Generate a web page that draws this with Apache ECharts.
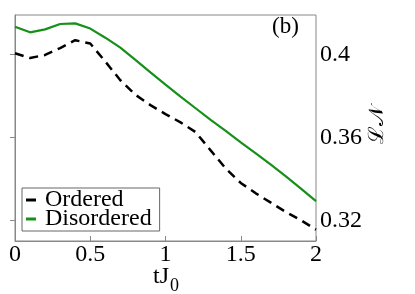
<!DOCTYPE html>
<html><head><meta charset="utf-8">
<script src="https://cdn.jsdelivr.net/npm/echarts@6/dist/echarts.min.js"></script>
<style>html,body{margin:0;padding:0;background:#fff}#c{width:415px;height:294px}</style>
</head><body><div id="c"></div>
<script>
const tValues = [0,0.1,0.2,0.3,0.4,0.5,0.6,0.7,0.8,0.9,1.0,1.1,1.2,1.3,1.4,1.5,1.6,1.7,1.8,1.9,2.0];
const ordered = [0.4005,0.3982,0.3997,0.4030,0.4068,0.4052,0.3965,0.3875,0.3805,0.3755,0.3712,0.3672,0.3625,0.3537,0.3450,0.3380,0.3330,0.3285,0.3240,0.3200,0.3155];
const disordered = [0.4133,0.4106,0.4120,0.4146,0.4149,0.4124,0.4080,0.4032,0.3973,0.3913,0.3854,0.3796,0.3740,0.3684,0.3631,0.3576,0.3523,0.3468,0.3412,0.3353,0.3292];
const yTicks = [0.32,0.36,0.4];
const seriesNames = ['Ordered','Disordered'];
const FONT = 'Liberation Serif';

const chart = echarts.init(document.getElementById('c'));
chart.setOption({
  animation: false,
  textStyle: {fontFamily: FONT},
  grid: {left: 15, right: 99, top: 15, bottom: 53, show: true, borderColor: '#888', borderWidth: 1},
  legend: {
    orient: 'vertical', left: 22, top: 188,
    borderColor: '#666', borderWidth: 1, padding: [0, 8, 0, 4],
    itemGap: -5, itemWidth: 10, itemHeight: 3, icon: 'rect',
    textStyle: {fontFamily: FONT, fontSize: 24, color: '#000', padding: [0,0,0,4]},
    data: seriesNames
  },
  xAxis: {
    type: 'value', min: 0, max: 2, interval: 0.5,
    axisLine: {show: true, lineStyle: {color: '#888'}},
    axisTick: {show: true, inside: true, length: 5, lineStyle: {color: '#888'}},
    splitLine: {show: false},
    axisLabel: {fontFamily: FONT, fontSize: 24, color: '#000', margin: 2, formatter: v => String(v)}
  },
  yAxis: {
    type: 'value', position: 'right', min: 0.31002, max: 0.41894,
    axisLine: {show: true, lineStyle: {color: '#888'}},
    axisTick: {show: true, inside: true, length: 5, customValues: yTicks, lineStyle: {color: '#888'}},
    splitLine: {show: false},
    axisLabel: {fontFamily: FONT, fontSize: 24, color: '#000', margin: 4, customValues: yTicks, formatter: v => String(+v.toFixed(2))}
  },
  graphic: [
    {type: 'text', x: 272, y: 27, style: {text: '(b)', fontFamily: FONT, fontSize: 23, fill: '#000', verticalAlign: 'middle'}},
    {type: 'text', x: 153, y: 277, style: {text: 'tJ', fontFamily: FONT, fontSize: 24, fill: '#000', verticalAlign: 'middle'}},
    {type: 'text', x: 170, y: 286, style: {text: '0', fontFamily: FONT, fontSize: 18, fill: '#000', verticalAlign: 'middle'}},
    {type: 'text', x: 378, y: 125, rotation: Math.PI/2, style: {
      text: 'ℒ𝒩', fontFamily: 'DejaVu Serif', fontSize: 21, fill: '#000', align: 'center', verticalAlign: 'middle'
    }}
  ],
  series: [
    {name: seriesNames[0], type: 'line', showSymbol: false, color: '#000',
     lineStyle: {width: 2.5, type: [9,6], color: '#000'},
     data: tValues.map((t,i) => [t, ordered[i]])},
    {name: seriesNames[1], type: 'line', showSymbol: false, color: '#16901a',
     lineStyle: {width: 2.2, color: '#16901a'},
     data: tValues.map((t,i) => [t, disordered[i]])}
  ]
});
</script></body></html>
